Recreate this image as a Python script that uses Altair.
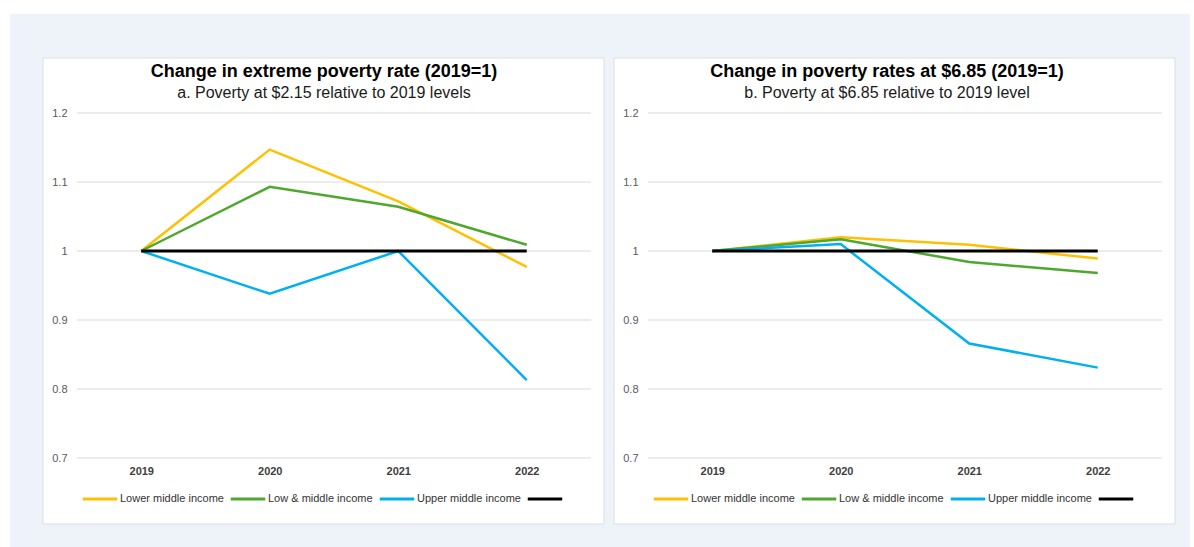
import altair as alt
import pandas as pd

years = ["2019", "2020", "2021", "2022"]
series_names = ["Lower middle income", "Low & middle income", "Upper middle income", "2019 level"]
colors = ["#FFC000", "#4EA72E", "#00B0F0", "#000000"]

# Panel a: poverty at $2.15 relative to 2019
a_lower = [1.0, 1.147, 1.072, 0.977]
a_lowmid = [1.0, 1.093, 1.064, 1.009]
a_upper = [1.0, 0.938, 1.0, 0.813]
a_ref = [1.0, 1.0, 1.0, 1.0]

# Panel b: poverty at $6.85 relative to 2019
b_lower = [1.0, 1.020, 1.009, 0.989]
b_lowmid = [1.0, 1.017, 0.984, 0.968]
b_upper = [1.0, 1.010, 0.866, 0.831]
b_ref = [1.0, 1.0, 1.0, 1.0]

y_ticks = [0.7, 0.8, 0.9, 1.0, 1.1, 1.2]

titles = ["Change in extreme poverty rate (2019=1)", "Change in poverty rates at $6.85 (2019=1)"]
subtitles = ["a. Poverty at $2.15 relative to 2019 levels", "b. Poverty at $6.85 relative to 2019 level"]

W, H = 514, 345


def make_df(vals_list):
    rows = []
    for name, vals in zip(series_names, vals_list):
        for y, v in zip(years, vals):
            rows.append({"series": name, "year": y, "value": v})
    return pd.DataFrame(rows)


def panel(df, title, subtitle, tx, backdrop):
    one = pd.DataFrame({"k": [0]})
    yscale = alt.Scale(domain=[0.7, 1.2], nice=False, zero=False)
    yaxis = alt.Axis(title=None, values=y_ticks, format=".1~f", grid=False,
                     domain=False, ticks=False, labelFontSize=11,
                     labelColor="#595959", labelPadding=10, zindex=1)
    xenc = alt.X("year:O", scale=alt.Scale(type="point", padding=0.5),
                 axis=alt.Axis(title=None, labelFontWeight="bold", labelFontSize=11,
                               labelColor="#404040", domain=False, ticks=False,
                               labelPadding=7, labelAngle=0, zindex=1))
    yenc = alt.Y("value:Q", scale=yscale, axis=yaxis)
    cenc = alt.Color("series:N", scale=alt.Scale(domain=series_names, range=colors),
                     legend=alt.Legend(title=None, orient="none", legendX=4, legendY=367,
                                       direction="horizontal", symbolType="stroke",
                                       symbolSize=1190, symbolStrokeWidth=3,
                                       labelFontSize=11, labelColor="#333333",
                                       labelOffset=1, columnPadding=0,
                                       labelExpr="datum.label == '2019 level' ? '' : datum.label"))
    layers = []
    if backdrop:
        layers.append(alt.Chart(one).mark_rect(color="#EEF3FA", clip=False).encode(
            x=alt.value(-67), x2=alt.value(1113), y=alt.value(-99), y2=alt.value(434)))
    layers.append(alt.Chart(one).mark_rect(fill="white", stroke="#D9DEE5", strokeWidth=1, clip=False).encode(
        x=alt.value(-34), x2=alt.value(527), y=alt.value(-55), y2=alt.value(411)))
    layers.append(alt.Chart(pd.DataFrame({"value": y_ticks})).mark_rule(color="#D9D9D9", strokeWidth=1).encode(
        y=alt.Y("value:Q", scale=yscale, axis=yaxis), x=alt.value(0), x2=alt.value(W)))
    layers.append(alt.Chart(one).mark_text(text=title, fontSize=18, fontWeight="bold", color="#000000",
                                           align="center", baseline="middle").encode(
        x=alt.value(tx), y=alt.value(-41)))
    layers.append(alt.Chart(one).mark_text(text=subtitle, fontSize=16, color="#1a1a1a",
                                           align="center", baseline="middle").encode(
        x=alt.value(tx), y=alt.value(-20)))
    colored = df[df.series != "2019 level"]
    ref = df[df.series == "2019 level"]
    layers.append(alt.Chart(colored).mark_line(strokeWidth=2.5).encode(x=xenc, y=yenc, color=cenc))
    layers.append(alt.Chart(ref).mark_line(strokeWidth=3).encode(x=xenc, y=yenc, color=cenc))
    return alt.layer(*layers).properties(width=W, height=H)


left = panel(make_df([a_lower, a_lowmid, a_upper, a_ref]), titles[0], subtitles[0], 247, True)
right = panel(make_df([b_lower, b_lowmid, b_upper, b_ref]), titles[1], subtitles[1], 239, False)

chart = alt.hconcat(left, right, spacing=57, bounds="flush").resolve_scale(
    x="independent", y="independent", color="independent"
).resolve_legend(color="independent").properties(
    padding={"left": 10, "top": 14, "right": 4, "bottom": 0},
    autosize=alt.AutoSizeParams(type="pad"),
    background="white",
).configure(font="Liberation Sans").configure_view(stroke=None)

chart.save("out.html", embed_options={"renderer": "svg", "actions": False})
